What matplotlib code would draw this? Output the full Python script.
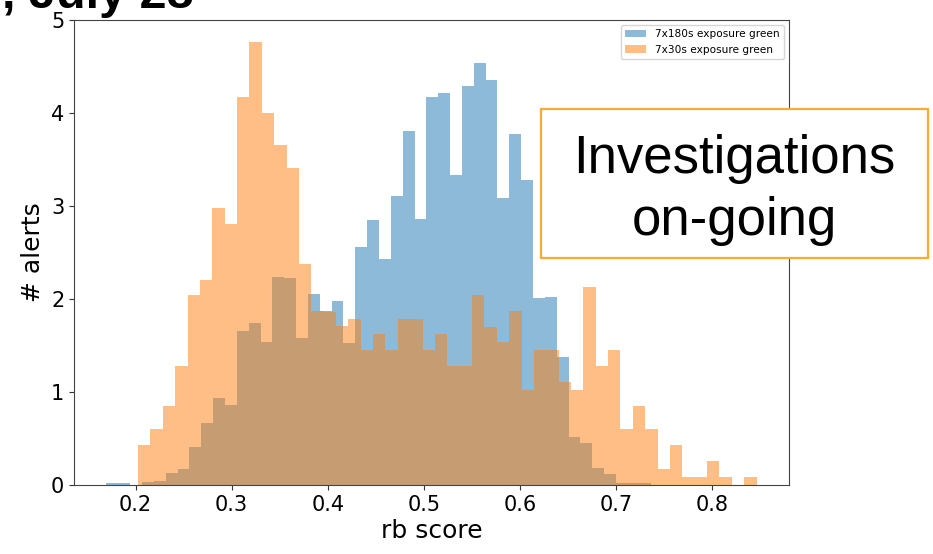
import numpy as np
import matplotlib
matplotlib.use("Agg")
import matplotlib.pyplot as plt
from matplotlib.patches import Rectangle

# rb-score histograms (density-normalised), 50 bins each over its own range
long_range = (0.1698, 0.7859)
long_density = [
    0.02, 0.02, 0.0, 0.03, 0.045, 0.126, 0.176, 0.413, 0.668, 0.934,
    0.862, 1.656, 1.746, 1.541, 2.241, 2.231, 1.577, 2.058, 1.868, 1.983,
    1.530, 2.554, 2.852, 2.428, 3.107, 3.811, 2.863, 4.174, 4.210, 3.337,
    4.292, 4.533, 4.350, 3.085, 3.772, 3.280, 2.012, 2.022, 1.379, 0.517,
    0.449, 0.185, 0.118, 0.02, 0.02, 0.02, 0.0, 0.0, 0.0, 0.0,
]
short_range = (0.2027, 0.8459)
short_density = [
    0.428, 0.600, 0.851, 1.275, 2.047, 2.209, 2.978, 2.809, 4.167, 4.763,
    4.005, 3.660, 3.409, 2.381, 1.875, 1.864, 1.706, 1.785, 1.451, 1.623,
    1.451, 1.785, 1.785, 1.451, 1.623, 1.282, 1.282, 2.047, 1.703, 1.534,
    1.875, 1.024, 1.451, 1.451, 1.103, 1.024, 2.126, 1.275, 1.451, 0.600,
    0.848, 0.600, 0.172, 0.428, 0.085, 0.085, 0.257, 0.085, 0.0, 0.085,
]
labels = ["7x180s exposure green", "7x30s exposure green"]

fig = plt.figure(figsize=(9.33, 5.54), dpi=100)
ax = fig.add_axes([0.0793, 0.1245, 0.7664, 0.8394])

for (lo, hi), dens, lab in [(long_range, long_density, labels[0]),
                            (short_range, short_density, labels[1])]:
    edges = np.linspace(lo, hi, len(dens) + 1)
    centers = 0.5 * (edges[:-1] + edges[1:])
    ax.hist(centers, bins=edges, weights=dens, alpha=0.5, label=lab)

ax.set_ylim(0, 5)
ax.set_xticks([0.2, 0.3, 0.4, 0.5, 0.6, 0.7, 0.8])
ax.set_yticks(range(6))
ax.tick_params(labelsize=15, colors="#333333", labelcolor="black")
for s in ax.spines.values():
    s.set_color("#444444")
ax.set_xlabel("rb score", fontsize=18, labelpad=3)
ax.set_ylabel("# alerts", fontsize=18)
ax.legend(loc="upper right", fontsize=7.6)

# slide title, mostly cut off at the top edge
fig.text(0.002, 1 - 8 / 554, ", July 28", fontsize=35, fontweight="bold",
         family="Liberation Sans", ha="left", va="baseline")

# status box drawn over the right side of the plot
fig.add_artist(Rectangle((0.5795, 0.5348), 0.4148, 0.2684,
                         transform=fig.transFigure, facecolor="white",
                         edgecolor="#fbab2d", linewidth=1.6, zorder=5))
fig.text(734.5 / 933, 1 - 173.3 / 554, "Investigations", fontsize=38,
         family="Liberation Sans", ha="center", va="baseline", zorder=6)
fig.text(734.5 / 933, 1 - 235 / 554, "on-going", fontsize=38,
         family="Liberation Sans", ha="center", va="baseline", zorder=6)

fig.savefig("out.png", dpi=100)
